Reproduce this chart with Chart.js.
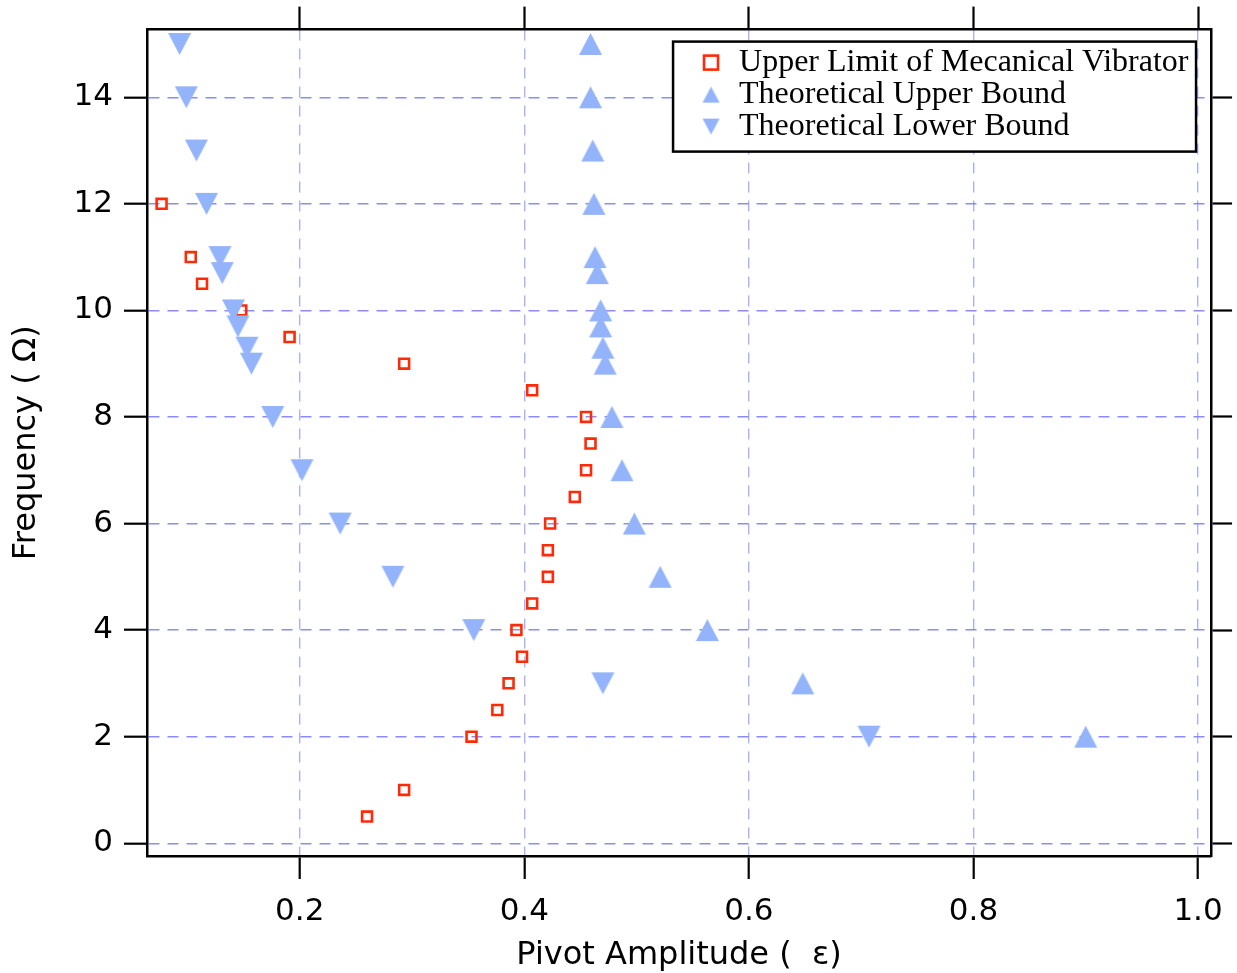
<!DOCTYPE html>
<html>
<head>
<meta charset="utf-8">
<script src="https://cdn.jsdelivr.net/npm/chart.js@4.4.1/dist/chart.umd.min.js"></script>
<style>
  html, body { margin: 0; padding: 0; background: #fff; }
  #wrap { width: 1237px; height: 973px; }
</style>
</head>
<body>
<div id="wrap"><canvas id="chart" width="1237" height="973"></canvas></div>
<script>
// Upper limit of the mechanical vibrator (red open squares)
const upperLimitAmp  = [0.077, 0.103, 0.113, 0.148, 0.191, 0.293, 0.407, 0.455, 0.459, 0.455, 0.445,
                        0.423, 0.421, 0.421, 0.407, 0.393, 0.398, 0.386, 0.376, 0.353, 0.293, 0.260];
const upperLimitFreq = [12, 11, 10.5, 10, 9.5, 9, 8.5, 8, 7.5, 7, 6.5,
                        6, 5.5, 5, 4.5, 4, 3.5, 3, 2.5, 2, 1, 0.5];

// Theoretical upper bound (up triangles)
const theoUpperAmp  = [0.459, 0.459, 0.461, 0.462, 0.463, 0.465, 0.468, 0.468, 0.470,
                       0.472, 0.478, 0.487, 0.498, 0.521, 0.563, 0.648, 0.900];
const theoUpperFreq = [15, 14, 13, 12, 11, 10.7, 10, 9.7, 9.3, 9, 8, 7, 6, 5, 4, 3, 2];

// Theoretical lower bound (down triangles)
const theoLowerAmp  = [0.093, 0.099, 0.108, 0.117, 0.129, 0.131, 0.141, 0.145, 0.153,
                       0.157, 0.176, 0.202, 0.236, 0.283, 0.355, 0.470, 0.707];
const theoLowerFreq = [15, 14, 13, 12, 11, 10.7, 10, 9.7, 9.3, 9, 8, 7, 6, 5, 4, 3, 2];

const xTickValues = [0.2, 0.4, 0.6, 0.8, 1.0];
const yTickValues = [0, 2, 4, 6, 8, 10, 12, 14];
const legendLabels = ['Upper Limit of Mecanical Vibrator', 'Theoretical Upper Bound', 'Theoretical Lower Bound'];

const X_MIN = 0.064, X_MAX = 1.0116;
const Y_MIN = -0.24, Y_MAX = 15.27;

const RED = 'rgb(255,42,8)';
const BLUE = 'rgb(147,179,251)';

function makeTriangle(w, h, down, color) {
    const c = document.createElement('canvas');
    c.width = w + 2; c.height = h + 2;
    const g = c.getContext('2d');
    g.fillStyle = color;
    g.beginPath();
    if (down) {
        g.moveTo(1, 1); g.lineTo(w + 1, 1); g.lineTo(c.width / 2, h + 1);
    } else {
        g.moveTo(c.width / 2, 1); g.lineTo(w + 1, h + 1); g.lineTo(1, h + 1);
    }
    g.closePath();
    g.fill();
    return c;
}

const triUp = makeTriangle(23, 22, false, BLUE);
const triDown = makeTriangle(23, 22, true, BLUE);
const triUpSmall = makeTriangle(17, 16, false, BLUE);
const triDownSmall = makeTriangle(17, 16, true, BLUE);

const toPoints = (xs, ys) => xs.map((x, i) => ({x: x, y: ys[i]}));

const tickFont = { family: '"DejaVu Sans", Verdana, sans-serif', size: 31 };
const titleFont = { family: '"DejaVu Sans", Verdana, sans-serif', size: 32, lineHeight: 1.1 };

const boxLegend = {
    id: 'boxLegend',
    afterDatasetsDraw(chart) {
        const ctx = chart.ctx;
        const area = chart.chartArea;
        const left = area.right - 538, top = area.top + 12, w = 523, h = 110;
        ctx.save();
        ctx.fillStyle = '#fff';
        ctx.fillRect(left, top, w, h);
        ctx.lineWidth = 2.5;
        ctx.strokeStyle = '#000';
        ctx.strokeRect(left, top, w, h);
        const mx = left + 38;
        const rows = [top + 21, top + 53, top + 85];
        ctx.lineWidth = 2.6;
        ctx.strokeStyle = RED;
        ctx.strokeRect(mx - 7, rows[0] - 7, 14, 14);
        ctx.drawImage(triUpSmall, mx - triUpSmall.width / 2, rows[1] - triUpSmall.height / 2);
        ctx.drawImage(triDownSmall, mx - triDownSmall.width / 2, rows[2] - triDownSmall.height / 2);
        ctx.fillStyle = '#000';
        ctx.font = '32px "Liberation Serif", "Times New Roman", serif';
        ctx.textBaseline = 'middle';
        legendLabels.forEach((t, i) => ctx.fillText(t, left + 66, rows[i]));
        ctx.restore();
    }
};

const ctx = document.getElementById('chart').getContext('2d');
new Chart(ctx, {
    type: 'scatter',
    data: {
        datasets: [{
            label: legendLabels[0],
            data: toPoints(upperLimitAmp, upperLimitFreq),
            pointStyle: 'rect',
            pointRadius: 7,
            pointBorderWidth: 2.6,
            borderColor: RED,
            backgroundColor: 'rgba(0,0,0,0)',
            order: 3
        }, {
            label: legendLabels[1],
            data: toPoints(theoUpperAmp, theoUpperFreq),
            pointStyle: triUp,
            pointRadius: 11,
            order: 2
        }, {
            label: legendLabels[2],
            data: toPoints(theoLowerAmp, theoLowerFreq),
            pointStyle: triDown,
            pointRadius: 11,
            order: 1
        }]
    },
    options: {
        responsive: false,
        animation: false,
        layout: { padding: 0 },
        plugins: {
            legend: { display: false },
            tooltip: { enabled: false }
        },
        scales: {
            x: {
                type: 'linear',
                position: 'bottom',
                min: X_MIN, max: X_MAX,
                afterBuildTicks: s => { s.ticks = xTickValues.map(v => ({value: v})); },
                afterFit: s => { s.height = 117; },
                ticks: { callback: v => v.toFixed(1), font: tickFont, color: '#000', padding: 14, maxRotation: 0, autoSkip: false },
                grid: { color: 'rgba(140,150,255,0.75)', lineWidth: 1.4, tickLength: 23, tickColor: '#000', tickWidth: 2.2, tickBorderDash: [] },
                border: { display: true, color: '#000', width: 2.5, dash: [11, 8] },
                title: { display: true, text: 'Pivot Amplitude (  ε)', font: titleFont, color: '#000', padding: 0 }
            },
            xTop: {
                type: 'linear',
                position: 'top',
                min: X_MIN, max: X_MAX,
                afterBuildTicks: s => { s.ticks = xTickValues.map(v => ({value: v})); },
                afterFit: s => { s.height = 28; },
                ticks: { display: false },
                grid: { drawOnChartArea: false, color: '#000', tickLength: 23, tickColor: '#000', tickWidth: 2.2 },
                border: { display: true, color: '#000', width: 2.5 }
            },
            y: {
                type: 'linear',
                position: 'left',
                min: Y_MIN, max: Y_MAX,
                afterBuildTicks: s => { s.ticks = yTickValues.map(v => ({value: v})); },
                afterFit: s => { s.width = 147; },
                ticks: { callback: v => String(v), font: tickFont, color: '#000', padding: 11 },
                grid: { color: 'rgba(120,120,245,0.85)', lineWidth: 1.4, tickLength: 23, tickColor: '#000', tickWidth: 2.2, tickBorderDash: [] },
                border: { display: true, color: '#000', width: 2.5, dash: [11, 8] },
                title: { display: true, text: 'Frequency ( Ω)', font: titleFont, color: '#000', padding: { top: 9, bottom: 0 } }
            },
            yRight: {
                type: 'linear',
                position: 'right',
                min: Y_MIN, max: Y_MAX,
                afterBuildTicks: s => { s.ticks = yTickValues.map(v => ({value: v})); },
                afterFit: s => { s.width = 25; },
                ticks: { display: false },
                grid: { drawOnChartArea: false, color: '#000', tickLength: 21, tickColor: '#000', tickWidth: 2.2 },
                border: { display: true, color: '#000', width: 2.5 }
            }
        }
    },
    plugins: [boxLegend]
});
</script>
</body>
</html>
